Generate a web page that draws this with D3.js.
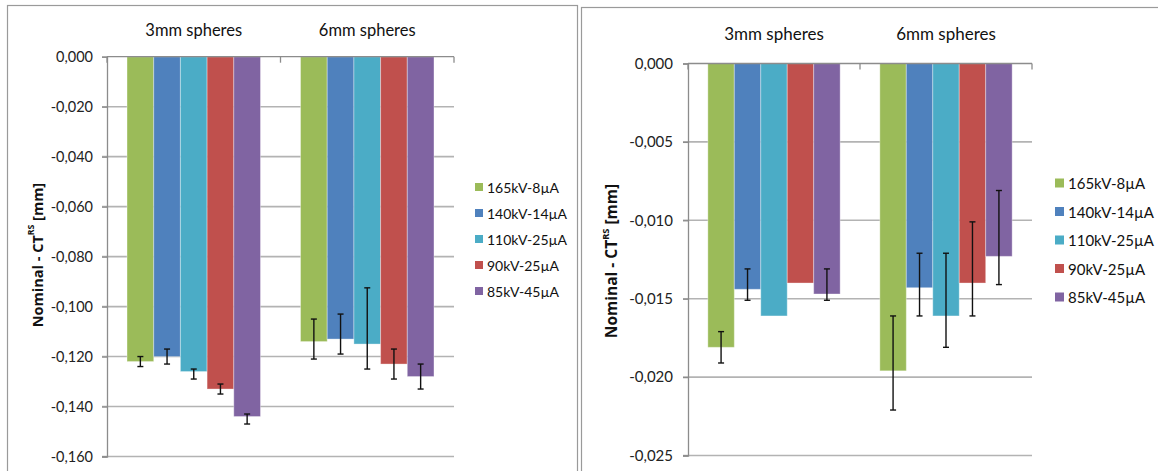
<!DOCTYPE html>
<html>
<head>
<meta charset="utf-8">
<script src="https://cdn.jsdelivr.net/npm/d3@7/dist/d3.min.js"></script>
<style>
  html, body { margin: 0; padding: 0; background: #fff; }
  svg { display: block; font-family: Lato, "Open Sans", sans-serif; }
</style>
</head>
<body>
<svg id="chart" width="1158" height="471"></svg>
<script>
// Categories and series shared by both panels
const categories = ["3mm spheres", "6mm spheres"];
const seriesNames = ["165kV-8µA", "140kV-14µA", "110kV-25µA", "90kV-25µA", "85kV-45µA"];
const seriesColors = ["#9BBB59", "#4F81BD", "#4BACC6", "#C0504D", "#8064A2"];

// Left panel: mean deviation per series, [3mm, 6mm]
const leftValues = [
  [-0.122, -0.114],
  [-0.120, -0.113],
  [-0.126, -0.115],
  [-0.133, -0.123],
  [-0.144, -0.128]
];
// Left panel error bar ends (upper / lower)
const leftErrHigh = [
  [-0.120, -0.105],
  [-0.117, -0.103],
  [-0.125, -0.0925],
  [-0.131, -0.117],
  [-0.143, -0.123]
];
const leftErrLow = [
  [-0.124, -0.121],
  [-0.123, -0.119],
  [-0.129, -0.125],
  [-0.135, -0.129],
  [-0.147, -0.133]
];
const leftTicks = [0, -0.02, -0.04, -0.06, -0.08, -0.10, -0.12, -0.14, -0.16];

// Right panel: mean deviation per series, [3mm, 6mm]
const rightValues = [
  [-0.0181, -0.0196],
  [-0.0144, -0.0143],
  [-0.0161, -0.0161],
  [-0.0140, -0.0140],
  [-0.0147, -0.0123]
];
// Right panel error bar ends (null = no error bar)
const rightErrHigh = [
  [-0.0171, -0.0161],
  [-0.0131, -0.0121],
  [null, -0.0121],
  [null, -0.0101],
  [-0.0131, -0.0081]
];
const rightErrLow = [
  [-0.0191, -0.0221],
  [-0.0151, -0.0161],
  [null, -0.0181],
  [null, -0.0161],
  [-0.0151, -0.0141]
];
const rightTicks = [0, -0.005, -0.010, -0.015, -0.020, -0.025];

const fmt = d3.formatLocale({ decimal: ",", thousands: ".", grouping: [3], currency: ["", ""], minus: "-" }).format(".3f");

const svg = d3.select("#chart");

function drawPanel(p) {
  const g = svg.append("g");

  // outer frame
  g.append("rect")
    .attr("x", p.frame[0]).attr("y", p.frame[1])
    .attr("width", p.frame[2]).attr("height", p.frame[3])
    .attr("fill", "none").attr("stroke", "#9a9a9a").attr("stroke-width", 1.2);

  const x = d3.scaleBand().domain(categories).range([p.x0, p.x1]);
  const inner = d3.scaleBand().domain(d3.range(seriesNames.length))
    .range([0, x.bandwidth()]).paddingOuter(0.75).paddingInner(0);
  const y = d3.scaleLinear().domain([p.ticks[0], p.ticks[p.ticks.length - 1]]).range([p.y0, p.y1]);

  // horizontal gridlines
  g.selectAll(".grid").data(p.ticks.slice(1)).join("line")
    .attr("x1", p.x0 - 5).attr("x2", p.x1)
    .attr("y1", d => y(d)).attr("y2", d => y(d))
    .attr("stroke", "#b3b3b3").attr("stroke-width", 1.6);

  // y axis
  const yAxis = d3.axisLeft(y).tickValues(p.ticks).tickFormat(fmt).tickSize(5).tickPadding(p.labelPad);
  const ya = g.append("g").attr("transform", `translate(${p.x0},0)`).call(yAxis);
  ya.select(".domain").attr("stroke", "#8c8c8c").attr("stroke-width", 1.3);
  ya.selectAll(".tick line").attr("stroke", "#8c8c8c").attr("stroke-width", 1.3);
  ya.selectAll(".tick text").attr("font-size", p.tickFont).attr("fill", "#222")
    .attr("font-family", "Lato, sans-serif");

  // bars
  seriesNames.forEach((name, si) => {
    categories.forEach((cat, ci) => {
      const v = p.values[si][ci];
      const bx = x(cat) + inner(si);
      g.append("rect")
        .attr("x", bx).attr("width", inner.bandwidth())
        .attr("y", y(0)).attr("height", y(v) - y(0))
        .attr("fill", seriesColors[si])
        .attr("stroke", "rgba(255,255,255,0.35)").attr("stroke-width", 1);
    });
  });

  // zero-line axis with category tick marks
  g.append("line").attr("x1", p.x0).attr("x2", p.x1)
    .attr("y1", y(0)).attr("y2", y(0))
    .attr("stroke", "#8c8c8c").attr("stroke-width", 1.3);
  const bounds = [p.x0, x(categories[1]), p.x1];
  g.selectAll(".xt").data(bounds).join("line")
    .attr("x1", d => d).attr("x2", d => d)
    .attr("y1", y(0)).attr("y2", y(0) + 6)
    .attr("stroke", "#8c8c8c").attr("stroke-width", 1.3);

  // error bars
  seriesNames.forEach((name, si) => {
    categories.forEach((cat, ci) => {
      const hi = p.errHigh[si][ci], lo = p.errLow[si][ci];
      if (hi == null || lo == null) return;
      const cx = x(cat) + inner(si) + inner.bandwidth() / 2;
      const eg = g.append("g").attr("stroke", "#111").attr("stroke-width", 1.4);
      eg.append("line").attr("x1", cx).attr("x2", cx).attr("y1", y(hi)).attr("y2", y(lo));
      [hi, lo].forEach(e => eg.append("line")
        .attr("x1", cx - 3).attr("x2", cx + 3).attr("y1", y(e)).attr("y2", y(e)));
    });
  });

  // category labels above the plot
  g.selectAll(".cat").data(categories).join("text")
    .attr("x", d => x(d) + x.bandwidth() / 2).attr("y", p.catY)
    .attr("text-anchor", "middle").attr("dominant-baseline", "central")
    .attr("font-size", p.catFont).attr("fill", "#111").text(d => d);

  // axis title
  const t = g.append("text")
    .attr("transform", `translate(${p.titleX},${p.titleY}) rotate(-90)`)
    .attr("text-anchor", "middle").attr("dominant-baseline", "central")
    .attr("font-family", "'Open Sans', 'Noto Sans', sans-serif")
    .attr("font-size", p.titleFont).attr("font-weight", 700).attr("fill", "#111");
  t.append("tspan").text("Nominal - CT");
  t.append("tspan").attr("font-size", p.titleFont * 0.6).attr("dy", -6).text("RS");
  t.append("tspan").attr("dy", 6).text(" [mm]");

  // legend
  seriesNames.forEach((name, si) => {
    const cy = p.legY + si * p.legStep;
    g.append("rect").attr("x", p.legX).attr("y", cy - p.legSq / 2)
      .attr("width", p.legSq).attr("height", p.legSq).attr("fill", seriesColors[si]);
    g.append("text").attr("x", p.legX + p.legSq + 4).attr("y", cy)
      .attr("dominant-baseline", "central")
      .attr("font-size", p.legFont).attr("fill", "#111").text(name);
  });
}

drawPanel({
  frame: [7.5, 5.5, 570, 500],
  x0: 107, x1: 454, y0: 56.7, y1: 456.5,
  ticks: leftTicks, values: leftValues, errHigh: leftErrHigh, errLow: leftErrLow,
  labelPad: 9, tickFont: 14.5, catY: 30, catFont: 16.5,
  titleX: 37, titleY: 255, titleFont: 14.5,
  legX: 475, legY: 187, legStep: 26, legSq: 8, legFont: 14
});

drawPanel({
  frame: [581.5, 7.5, 600, 500],
  x0: 688, x1: 1032, y0: 63.5, y1: 455.5,
  ticks: rightTicks, values: rightValues, errHigh: rightErrHigh, errLow: rightErrLow,
  labelPad: 10, tickFont: 15, catY: 33, catFont: 17,
  titleX: 611, titleY: 261, titleFont: 15.5,
  legX: 1055, legY: 183, legStep: 28.5, legSq: 9, legFont: 15
});
</script>
</body>
</html>
